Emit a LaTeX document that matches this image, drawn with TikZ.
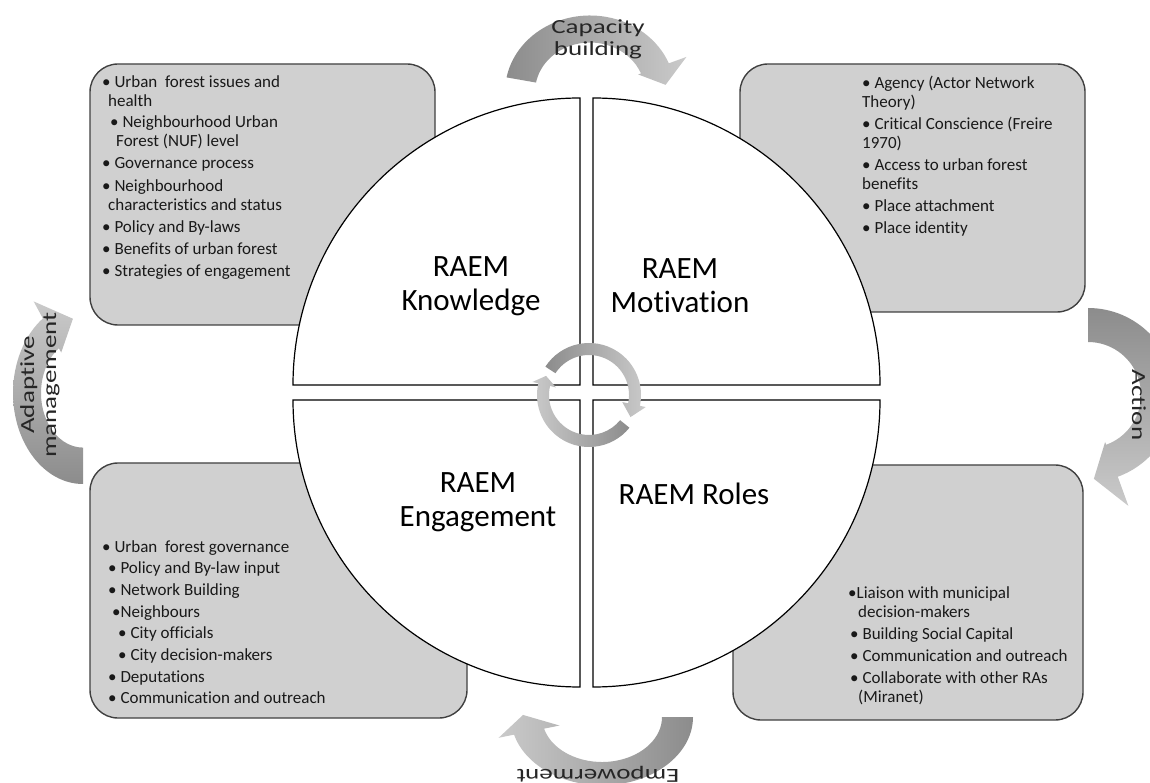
\documentclass[tikz,border=0pt]{standalone}
\usepackage{fontspec}
\setmainfont{Carlito}[Ligatures=NoCommon]
\newfontfamily\arrowfont[FakeStretch=1.35,Ligatures=NoCommon]{Carlito}
\usepackage{tikz}
\usetikzlibrary{positioning,calc}

\definecolor{boxgray}{RGB}{208,208,208}
\definecolor{boxline}{RGB}{64,64,64}
\definecolor{arrowdark}{RGB}{140,140,140}
\definecolor{arrowlight}{RGB}{202,202,202}
\definecolor{txt}{RGB}{25,25,25}

\tikzset{
  infobox/.style={draw=boxline, fill=boxgray, line width=1.4pt, rounded corners=28pt},
  quadrant/.style={draw=black, fill=white, line width=1.2pt},
  itemtext/.style={anchor=north west, align=left, inner sep=0pt, text=txt, font=\fontsize{17}{19}\selectfont},
  raem/.style={align=center, inner sep=0pt, text=black, font=\fontsize{31}{34}\selectfont},
  looplabel/.style={align=center, inner sep=0pt, text=black!85, font=\arrowfont\fontsize{20}{22}\selectfont},
}

% curved block arrow: #1 shading, #2 tail angle, #3 head angle, #4 tip angle,
% #5 inner r, #6 outer r, #7 head inner r, #8 head outer r, #9 tip r
\newcommand{\cyclearrow}[9]{%
  \shade[#1] (#2:#6) arc[start angle=#2, end angle=#3, radius=#6]
    -- (#3:#8) -- (#4:#9) -- (#3:#7) -- (#3:#5)
    arc[start angle=#3, end angle=#2, radius=#5] -- cycle;}

\begin{document}
\begin{tikzpicture}[x=1pt,y=1pt]
    \useasboundingbox (0,0) rectangle (1150,782);

    % Grey boxes behind the circle
    \draw[infobox] (90,457) rectangle (435,718); % knowledge
    \draw[infobox] (740,470) rectangle (1085,718); % motivation
    \draw[infobox] (90,64) rectangle (467,319); % engagement
    \draw[infobox] (733,62) rectangle (1083,317); % roles

    % Circle in four quadrants
    \draw[quadrant] (580,397) -- ++(0,287) arc[start angle=90, end angle=180, radius=287] -- cycle;
    \draw[quadrant] (593,397) -- ++(0,287) arc[start angle=90, end angle=0, radius=287] -- cycle;
    \draw[quadrant] (580,382) -- ++(0,-287) arc[start angle=270, end angle=180, radius=287] -- cycle;
    \draw[quadrant] (593,382) -- ++(0,-287) arc[start angle=270, end angle=360, radius=287] -- cycle;

    % Outer loop arrows
    \begin{scope}[shift={(590,690)}, yscale=0.9]
        \cyclearrow{left color=arrowdark, right color=arrowlight}{169}{22}{6}{55}{85}{52}{104}{76}
    \end{scope}
    \begin{scope}[shift={(1088,387)}]
        \cyclearrow{top color=arrowdark, bottom color=arrowlight}{90}{-70}{-86}{53}{87}{50}{118}{84}
    \end{scope}
    \begin{scope}[shift={(602,65)}, yscale=0.75]
        \cyclearrow{right color=arrowdark, left color=arrowlight}{0}{-165}{-182}{60}{91}{44}{107}{79}
    \end{scope}
    \begin{scope}[shift={(83,389)}, yscale=1.3]
        \cyclearrow{bottom color=arrowdark, top color=arrowlight}{-90}{-235}{-260}{42}{70}{38}{86}{58}
    \end{scope}

    % Small arrows in the middle
    \begin{scope}[shift={(589,387)}]
        \cyclearrow{left color=arrowdark, right color=arrowlight}{147}{-12}{-28}{40}{52}{34}{58}{47}
        \cyclearrow{right color=arrowdark, left color=arrowlight}{-39}{-193}{-204}{40}{52}{34}{58}{47}
    \end{scope}

    % Loop labels
    \node[looplabel] (capacity) at (598,743) {Capacity\\building};
    \node[looplabel, rotate=-90, anchor=base] (action) at (1132,377) {Action};
    \node[looplabel, rotate=180] (empower) at (598,8) {Empowerment};
    \node[looplabel, rotate=90] (adaptive) at (40,397) {Adaptive\\management};

    % Quadrant titles
    \node[raem] (know) at (471,496) {RAEM\\Knowledge};
    \node[raem] (motiv) at (680,496) {RAEM\\Motivation};
    \node[raem] (engage) at (478,280) {RAEM\\Engagement};
    \node[raem, anchor=base] (roles) at (694,277) {RAEM Roles};

    % Box texts
    \node[itemtext] (knowitems) at (102,707) {• Urban~ forest issues and\\
        \hspace*{6pt}health\\[3pt]
        \hspace*{8pt}• Neighbourhood Urban\\
        \hspace*{14pt}Forest (NUF) level\\[3pt]
        • Governance process\\[3pt]
        • Neighbourhood\\
        \hspace*{6pt}characteristics and status\\[3pt]
        • Policy and By-laws\\[3pt]
        • Benefits of urban forest\\[3pt]
        • Strategies of engagement};
    \node[itemtext] (motivitems) at (862,706) {• Agency (Actor Network\\
        Theory)\\[3pt]
        • Critical Conscience (Freire\\
        1970)\\[3pt]
        • Access to urban forest\\
        benefits\\[3pt]
        • Place attachment\\[3pt]
        • Place identity};
    \node[itemtext] (engageitems) at (102,242) {• Urban~ forest governance\\[2.7pt]
        \hspace*{6pt}• Policy and By-law input\\[2.7pt]
        \hspace*{6pt}• Network Building\\[2.7pt]
        \hspace*{10pt}•Neighbours\\[2.7pt]
        \hspace*{16pt}• City officials\\[2.7pt]
        \hspace*{16pt}• City decision-makers\\[2.7pt]
        \hspace*{6pt}• Deputations\\[2.7pt]
        \hspace*{6pt}• Communication and outreach};
    \node[itemtext] (roleitems) at (848,196) {•Liaison with municipal\\
        \hspace*{10pt}decision-makers\\[3pt]
        \hspace*{2pt}• Building Social Capital\\[3pt]
        \hspace*{2pt}• Communication and outreach\\[3pt]
        \hspace*{2pt}• Collaborate with other RAs\\
        \hspace*{10pt}(Miranet)};
\end{tikzpicture}
\end{document}
